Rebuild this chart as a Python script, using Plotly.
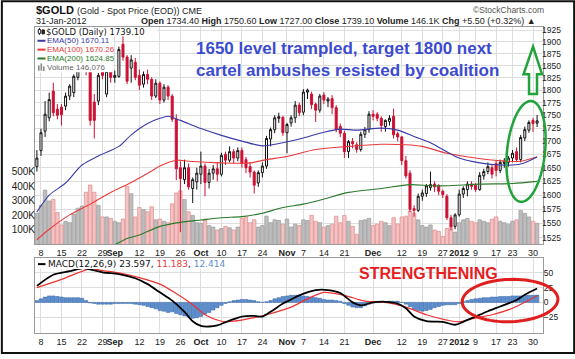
import math
import pandas as pd
import plotly.graph_objects as go

# ---------------- data ----------------
HOLIDAYS = ["2011-09-05", "2011-11-24", "2011-12-26", "2012-01-02", "2012-01-16"]
DATES = [d.strftime("%Y-%m-%d") for d in pd.bdate_range("2011-08-05", "2012-01-31")
         if d.strftime("%Y-%m-%d") not in HOLIDAYS]

OPEN = [1652, 1682, 1719, 1745, 1798, 1762,
        1766, 1768, 1788, 1795, 1826,
        1852, 1891, 1842, 1776, 1778,
        1850, 1792, 1838, 1826, 1828,
        1895, 1868, 1845, 1857,
        1830, 1812, 1832, 1822, 1788,
        1814, 1780, 1806, 1788, 1742,
        1650, 1628, 1650, 1612, 1624,
        1638, 1653, 1623, 1640, 1648,
        1638, 1675, 1664, 1680, 1668,
        1682, 1665, 1652, 1642, 1622,
        1641, 1653, 1704, 1722, 1744,
        1746, 1716, 1735, 1745, 1770,
        1756, 1796, 1792, 1772, 1760,
        1790, 1778, 1783, 1765, 1728,
        1715, 1680, 1699, 1693,
        1684, 1713, 1722, 1752, 1752,
        1744, 1728, 1738, 1748, 1714,
        1708, 1663, 1640, 1576, 1573,
        1598, 1603, 1614, 1620, 1617,
        1607, 1598, 1560, 1545,
        1565, 1602, 1610, 1620,
        1618, 1610, 1635, 1643, 1650,
        1658, 1645, 1658, 1660,
        1668, 1680, 1665, 1706, 1721,
        1740, 1734.4]
HIGH = [1683, 1724, 1778, 1795, 1815, 1772,
        1772, 1795, 1812, 1832, 1877,
        1911, 1913, 1846, 1792, 1835,
        1856, 1842, 1845, 1840, 1890,
        1920, 1872, 1872, 1866,
        1842, 1838, 1842, 1826, 1822,
        1818, 1812, 1810, 1792, 1752,
        1662, 1665, 1658, 1632, 1650,
        1680, 1658, 1648, 1655, 1660,
        1678, 1680, 1690, 1685, 1688,
        1688, 1670, 1660, 1645, 1645,
        1660, 1710, 1726, 1750, 1755,
        1748, 1735, 1750, 1778, 1775,
        1802, 1803, 1797, 1775, 1792,
        1796, 1786, 1790, 1770, 1734,
        1720, 1702, 1706, 1698,
        1718, 1727, 1758, 1760, 1756,
        1748, 1742, 1750, 1763, 1718,
        1710, 1672, 1645, 1582, 1603,
        1610, 1620, 1643, 1625, 1620,
        1610, 1602, 1565, 1568,
        1610, 1616, 1625, 1625,
        1622, 1642, 1648, 1660, 1655,
        1664, 1665, 1668, 1672,
        1683, 1688, 1712, 1728, 1740,
        1745, 1750.6]
LOW = [1643, 1672, 1708, 1738, 1748, 1742,
       1730, 1760, 1780, 1786, 1820,
       1848, 1830, 1730, 1705, 1770,
       1822, 1786, 1815, 1815, 1825,
       1860, 1812, 1815, 1820,
       1800, 1805, 1812, 1780, 1784,
       1772, 1775, 1780, 1737, 1627,
       1535, 1620, 1610, 1586, 1610,
       1620, 1598, 1612, 1628, 1625,
       1634, 1655, 1660, 1658, 1662,
       1650, 1640, 1632, 1603, 1615,
       1632, 1648, 1690, 1715, 1735,
       1710, 1677, 1728, 1735, 1748,
       1750, 1782, 1762, 1737, 1755,
       1772, 1766, 1752, 1717, 1708,
       1668, 1668, 1686, 1678,
       1680, 1706, 1716, 1740, 1738,
       1718, 1718, 1730, 1705, 1700,
       1655, 1630, 1570, 1562, 1570,
       1590, 1597, 1608, 1606, 1600,
       1595, 1556, 1538, 1540,
       1562, 1595, 1598, 1610,
       1606, 1608, 1628, 1638, 1630,
       1634, 1640, 1650, 1652,
       1660, 1660, 1660, 1700, 1716,
       1718, 1727.0]
CLOSE = [1668, 1716, 1752, 1781, 1755, 1750,
         1751, 1788, 1808, 1828, 1852,
         1891, 1845, 1740, 1740, 1830,
         1830, 1838, 1826, 1830, 1884,
         1868, 1818, 1862, 1826,
         1810, 1832, 1822, 1788, 1814,
         1780, 1806, 1788, 1742, 1648,
         1630, 1650, 1615, 1628, 1640,
         1653, 1623, 1640, 1648, 1638,
         1673, 1664, 1680, 1668, 1682,
         1658, 1650, 1642, 1618, 1641,
         1653, 1705, 1722, 1745, 1747,
         1716, 1732, 1745, 1770, 1755,
         1796, 1800, 1771, 1760, 1788,
         1780, 1782, 1765, 1722, 1715,
         1680, 1699, 1695, 1684,
         1713, 1722, 1752, 1748, 1744,
         1730, 1740, 1744, 1712, 1708,
         1663, 1635, 1575, 1573, 1598,
         1604, 1617, 1619, 1615, 1607,
         1601, 1560, 1545, 1565,
         1602, 1612, 1620, 1616,
         1610, 1636, 1643, 1652, 1638,
         1645, 1660, 1662, 1668,
         1677, 1665, 1707, 1722, 1736,
         1733.6, 1739.1]
VOLUME_K = [215, 270, 375, 300, 310, 220,
            135, 160, 150, 210, 250,
            265, 360, 410, 360, 270,
            190, 190, 180, 160, 150,
            175, 400, 350, 190,
            255, 240, 225, 260, 170,
            175, 160, 150, 280, 355,
            370, 310, 225, 200, 150,
            145, 175, 130, 120, 100,
            110, 125, 115, 100, 120,
            180, 190, 150, 170, 120,
            130, 195, 150, 170, 165,
            140, 175, 120, 140, 130,
            170, 165, 200, 160, 150,
            120, 130, 140, 195, 150,
            200, 160, 125, 70,
            165, 170, 180, 130, 140,
            160, 150, 130, 185, 140,
            190, 195, 230, 215, 170,
            130, 120, 135, 100, 90,
            55, 110, 130, 85,
            150, 170, 180, 160,
            150, 170, 160, 150, 175,
            190, 160, 150, 140,
            160, 170, 235, 215, 190,
            160, 146.076]

EMA50_DATES = ["2011-08-05", "2011-08-10", "2011-08-16", "2011-08-22", "2011-08-26", "2011-09-02",
               "2011-09-08", "2011-09-14", "2011-09-19", "2011-09-21", "2011-09-26", "2011-10-03",
               "2011-10-10", "2011-10-17", "2011-10-24", "2011-10-31", "2011-11-07", "2011-11-14",
               "2011-11-18", "2011-11-25", "2011-12-05", "2011-12-09", "2011-12-15", "2011-12-21",
               "2011-12-27", "2012-01-03", "2012-01-10", "2012-01-18", "2012-01-25", "2012-01-31"]
EMA50 = [1570, 1600, 1622, 1655, 1672, 1690, 1712, 1734, 1744, 1748, 1740, 1724, 1711, 1700, 1691,
         1697, 1706, 1717, 1723, 1721, 1725, 1721, 1709, 1697, 1684, 1668, 1659, 1655, 1657, 1670.11]

EMA100_DATES = ["2011-08-05", "2011-08-10", "2011-08-17", "2011-08-24", "2011-08-31", "2011-09-08",
                "2011-09-15", "2011-09-19", "2011-09-23", "2011-09-28", "2011-10-10", "2011-10-19",
                "2011-10-25", "2011-11-01", "2011-11-10", "2011-11-22", "2011-12-05", "2011-12-13",
                "2011-12-19", "2011-12-28", "2012-01-09", "2012-01-18", "2012-01-25", "2012-01-31"]
EMA100 = [1522, 1540, 1565, 1584, 1605, 1623, 1644, 1653, 1664, 1662, 1659, 1659, 1665, 1671, 1684,
          1690, 1694, 1693, 1690, 1677, 1668, 1663, 1662, 1670.26]

EMA200_DATES = ["2011-08-26", "2011-09-01", "2011-09-07", "2011-09-12", "2011-09-19", "2011-09-26",
                "2011-10-03", "2011-10-10", "2011-10-17", "2011-10-24", "2011-10-31", "2011-11-07",
                "2011-11-14", "2011-11-22", "2011-12-05", "2011-12-14", "2011-12-21", "2011-12-28",
                "2012-01-10", "2012-01-23", "2012-01-31"]
EMA200 = [1506, 1514, 1524, 1530, 1545, 1552, 1556, 1560, 1562, 1568, 1578, 1584, 1593, 1605, 1612,
          1619, 1617, 1617, 1620, 1621, 1624.85]

MACD_DATES = ["2011-08-05", "2011-08-11", "2011-08-17", "2011-08-22", "2011-08-24", "2011-08-29",
              "2011-09-02", "2011-09-09", "2011-09-14", "2011-09-19", "2011-09-22", "2011-09-27",
              "2011-09-29", "2011-10-03", "2011-10-05", "2011-10-07", "2011-10-12", "2011-10-17",
              "2011-10-20", "2011-10-24", "2011-10-26", "2011-10-31", "2011-11-02", "2011-11-04",
              "2011-11-10", "2011-11-15", "2011-11-18", "2011-11-23", "2011-11-28", "2011-12-01",
              "2011-12-06", "2011-12-09", "2011-12-13", "2011-12-15", "2011-12-20", "2011-12-27",
              "2011-12-30", "2012-01-04", "2012-01-09", "2012-01-12", "2012-01-18", "2012-01-24",
              "2012-01-26", "2012-01-31"]
MACD = [28, 47, 53, 58, 56, 51, 48, 41, 31, 17, 3, -16, -32, -40, -41, -39, -31, -24, -23, -24,
        -16, -2, 5, 12, 21, 21, 16, 0, -5, 0, 1, -2, -10, -24, -32, -33, -38, -33, -24, -15,
        -7, 4, 13, 23.597]

SIGNAL_DATES = ["2011-08-05", "2011-08-15", "2011-08-24", "2011-08-29", "2011-09-02", "2011-09-12",
                "2011-09-19", "2011-09-23", "2011-09-29", "2011-10-04", "2011-10-10", "2011-10-13",
                "2011-10-20", "2011-10-25", "2011-11-02", "2011-11-08", "2011-11-14", "2011-11-21",
                "2011-11-29", "2011-12-06", "2011-12-13", "2011-12-20", "2011-12-28", "2012-01-03",
                "2012-01-06", "2012-01-13", "2012-01-23", "2012-01-31"]
SIGNAL = [25, 39, 57, 54, 50, 42, 31, 15, -4, -21, -32, -32, -26, -21, -8, 6, 17, 12, 2, 0,
          -8, -21, -30, -33, -28, -21, -10, 11.183]

HIST = [3, 6, 9, 11, 11, 10, 9, 8, 8, 8, 8, 7, 3,
        -1, -2, -3, -3, -3, -3, -2, -2, -2, -2, -2, -3,
        -4, -5, -7, -9, -11, -14, -15, -17, -16, -19, -21,
        -23, -25, -27, -26, -24, -20, -17, -13, -9, -5, -2,
        1, 3, 4, 5, 5, 4, 3, 1, 0,
        1, 3, 6, 8, 10, 11, 12, 12, 12,
        11, 10, 9, 8, 7, 5, 4, 4, 3, 2,
        -2, -5, -8, -9, -9, -6, -3, -1,
        0, 1, 1, 2, 2, 2, 0,
        -3, -7, -12, -14, -15, -14, -12, -9, -7, -5, -4, -4, -4,
        -2, 1, 3, 5, 6, 7, 8, 8, 9, 9, 10, 10, 10, 11, 11, 11, 12, 12, 12, 12.414]

TICK_DATES = ["2011-08-08", "2011-08-15", "2011-08-22", "2011-08-29", "2011-09-01", "2011-09-12",
              "2011-09-19", "2011-09-26", "2011-10-03", "2011-10-10", "2011-10-17", "2011-10-24",
              "2011-11-01", "2011-11-07", "2011-11-14", "2011-11-21", "2011-12-01", "2011-12-12",
              "2011-12-19", "2011-12-27", "2012-01-03", "2012-01-09", "2012-01-17", "2012-01-23",
              "2012-01-30"]
TICK_TEXT = ["8", "15", "22", "29", "<b>Sep</b>", "12", "19", "26", "<b>Oct</b>", "10", "17", "24",
             "<b>Nov</b>", "7", "14", "21", "<b>Dec</b>", "12", "19", "27", "<b>2012</b>", "9", "17",
             "23", "30"]
PRICE_TICKS = list(range(1525, 1926, 25))
VOL_TICKS = [100, 200, 300, 400, 500]
VOL_TEXT = ["100K", "200K", "300K", "400K", "500K"]
MACD_TICKS = [-25, 0, 25, 50]
LEVEL = 1650
LEVEL_START = "2011-08-26"

n = len(DATES)
assert all(len(a) == n for a in (OPEN, HIGH, LOW, CLOSE, VOLUME_K, HIST))
for arr in (EMA50_DATES, EMA100_DATES, EMA200_DATES, MACD_DATES, SIGNAL_DATES, TICK_DATES):
    for d in arr:
        assert d in DATES, d

# ---------------- geometry helpers ----------------
W, H = 575, 359
L, R, T, B = 34, 32, 27, 21
PW, PH = W - L - R, H - T - B


def px(X):
    return (X - L) / PW


def py(Y):
    return (H - B - Y) / PH


P_BOT = py(248)
M_TOP = py(262)
XR = [-0.46, 123.44]
FONT = "Liberation Sans, Arial, sans-serif"
GRID = "#dedede"
FRAME = "#9a9a9a"
RED = "#cc1133"

fig = go.Figure()

vol_fill = ["#f4c2c2" if c < o else "#bdbdbd" for o, c in zip(OPEN, CLOSE)]
vol_line = ["#df8c8c" if c < o else "#9c9c9c" for o, c in zip(OPEN, CLOSE)]
fig.add_trace(go.Bar(x=DATES, y=VOLUME_K, xaxis="x", yaxis="y",
                     marker=dict(color=vol_fill, line=dict(color=vol_line, width=0.7)),
                     hoverinfo="skip"))

fig.add_trace(go.Scatter(x=EMA200_DATES, y=EMA200, xaxis="x", yaxis="y3", mode="lines",
                         line=dict(color="#2b7a2b", width=1.1, shape="spline", smoothing=0.8)))
fig.add_trace(go.Scatter(x=EMA100_DATES, y=EMA100, xaxis="x", yaxis="y3", mode="lines",
                         line=dict(color="#e83a3a", width=1.1, shape="spline", smoothing=0.8)))
fig.add_trace(go.Scatter(x=EMA50_DATES, y=EMA50, xaxis="x", yaxis="y3", mode="lines",
                         line=dict(color="#3a3aa8", width=1.1, shape="spline", smoothing=0.8)))

fig.add_trace(go.Candlestick(x=DATES, open=OPEN, high=HIGH, low=LOW, close=CLOSE,
                             xaxis="x", yaxis="y3", whiskerwidth=0,
                             increasing=dict(line=dict(color="#111111", width=1), fillcolor="white"),
                             decreasing=dict(line=dict(color=RED, width=1), fillcolor=RED)))

fig.add_trace(go.Bar(x=DATES, y=HIST, xaxis="x2", yaxis="y2",
                     marker=dict(color="#5b8fd0", line=dict(color="#2f5f9f", width=0.5)),
                     hoverinfo="skip"))
fig.add_trace(go.Scatter(x=SIGNAL_DATES, y=SIGNAL, xaxis="x2", yaxis="y2", mode="lines",
                         line=dict(color="#ee3333", width=1.2, shape="spline", smoothing=0.8)))
fig.add_trace(go.Scatter(x=MACD_DATES, y=MACD, xaxis="x2", yaxis="y2", mode="lines",
                         line=dict(color="#000000", width=1.8, shape="spline", smoothing=0.8)))

xcommon = dict(type="category", categoryorder="array", categoryarray=DATES, range=XR,
               tickmode="array", tickvals=TICK_DATES, ticktext=TICK_TEXT, tickangle=0,
               showgrid=True, gridcolor=GRID, gridwidth=1, showline=True, mirror=True,
               linecolor=FRAME, linewidth=1, ticks="", zeroline=False,
               tickfont=dict(family=FONT, size=9, color="#222"), fixedrange=True)

fig.update_layout(
    width=W, height=H, margin=dict(l=L, r=R, t=T, b=B, pad=0),
    paper_bgcolor="white", plot_bgcolor="white", showlegend=False,
    bargap=0.15, boxgap=0.3,
    font=dict(family=FONT, size=9, color="#222"),
    xaxis=dict(**xcommon, anchor="y", domain=[0, 1], rangeslider=dict(visible=False)),
    xaxis2=dict(**xcommon, anchor="y2", domain=[0, 1]),
    yaxis=dict(domain=[P_BOT, 1], range=[0, 1500], side="left", tickmode="array",
               tickvals=VOL_TICKS, ticktext=VOL_TEXT, showgrid=False, showline=True, mirror=True,
               linecolor=FRAME, zeroline=False, ticks="", ticklabelstandoff=-3,
               tickfont=dict(family=FONT, size=10, color="#222"), fixedrange=True),
    yaxis3=dict(overlaying="y", anchor="x", side="right", type="log",
                range=[math.log10(1514), math.log10(1932)], tickmode="array",
                tickvals=PRICE_TICKS, ticktext=[str(v) for v in PRICE_TICKS],
                showgrid=True, gridcolor=GRID, zeroline=False, ticks="", ticklabelstandoff=-2,
                tickfont=dict(family=FONT, size=8.5, color="#222"), fixedrange=True),
    yaxis2=dict(domain=[0, M_TOP], anchor="x2", side="right", range=[-52, 75], tickmode="array",
                tickvals=MACD_TICKS, showgrid=True, gridcolor=GRID, zeroline=False,
                showline=True, mirror=True, linecolor=FRAME, ticks="", ticklabelstandoff=-2,
                tickfont=dict(family=FONT, size=8.5, color="#222"), fixedrange=True),
)

shapes = []
# 1650 level line
shapes.append(dict(type="line", xref="x", yref="y3", x0=DATES.index(LEVEL_START), x1=XR[1],
                   y0=math.log10(LEVEL), y1=math.log10(LEVEL), line=dict(color="black", width=3),
                   layer="above"))
# legend backgrounds
shapes.append(dict(type="rect", xref="paper", yref="paper", x0=px(34.5), x1=px(156), y0=py(36.5),
                   y1=py(27.5), fillcolor="white", line=dict(width=0), layer="above"))
shapes.append(dict(type="rect", xref="paper", yref="paper", x0=px(34.5), x1=px(112), y0=py(73),
                   y1=py(36.5), fillcolor="white", line=dict(width=0), layer="above"))
shapes.append(dict(type="rect", xref="paper", yref="paper", x0=px(34.5), x1=px(232), y0=py(273),
                   y1=py(262.5), fillcolor="white", line=dict(width=0), layer="above"))
# legend dashes
for Y, col in ((41, "#3a3aa8"), (50, "#e83a3a"), (59, "#2b7a2b")):
    shapes.append(dict(type="line", xref="paper", yref="paper", x0=px(36.5), x1=px(44.5),
                       y0=py(Y), y1=py(Y), line=dict(color=col, width=2), layer="above"))
shapes.append(dict(type="line", xref="paper", yref="paper", x0=px(37), x1=px(44.5),
                   y0=py(268), y1=py(268), line=dict(color="black", width=2), layer="above"))
# candle icon
shapes.append(dict(type="line", xref="paper", yref="paper", x0=px(38.5), x1=px(38.5), y0=py(35),
                   y1=py(28), line=dict(color="#222", width=1), layer="above"))
shapes.append(dict(type="rect", xref="paper", yref="paper", x0=px(37.3), x1=px(39.7), y0=py(33.5),
                   y1=py(29.5), fillcolor="white", line=dict(color="#222", width=1), layer="above"))
shapes.append(dict(type="rect", xref="paper", yref="paper", x0=px(41), x1=px(43.4), y0=py(34),
                   y1=py(30), fillcolor="#222", line=dict(color="#222", width=1), layer="above"))
# volume icon
for x0, top in ((37, 66), (39.5, 64), (42, 67)):
    shapes.append(dict(type="rect", xref="paper", yref="paper", x0=px(x0), x1=px(x0 + 1.6),
                       y0=py(71.5), y1=py(top), fillcolor="#888", line=dict(width=0), layer="above"))


def ellipse(cx, cy, rx, ry, ang_deg, n=72):
    a = math.radians(ang_deg)
    pts = []
    for k in range(n):
        t = 2 * math.pi * k / n
        X = cx + rx * math.cos(t) * math.cos(a) - ry * math.sin(t) * math.sin(a)
        Y = cy + rx * math.cos(t) * math.sin(a) + ry * math.sin(t) * math.cos(a)
        pts.append((px(X), py(Y)))
    return "M " + " L ".join(f"{x:.5f},{y:.5f}" for x, y in pts) + " Z"


def poly(points):
    return "M " + " L ".join(f"{px(X):.5f},{py(Y):.5f}" for X, Y in points) + " Z"


shapes.append(dict(type="path", xref="paper", yref="paper", path=ellipse(526, 153.5, 19, 51.5, 6),
                   line=dict(color="#22a33a", width=2.5), layer="above"))
shapes.append(dict(type="path", xref="paper", yref="paper",
                   path=poly([(533, 47), (542, 75), (537, 75), (537, 95), (529, 95), (529, 75), (523.5, 75)]),
                   line=dict(color="#22a33a", width=2.5), layer="above"))
shapes.append(dict(type="path", xref="paper", yref="paper", path=ellipse(510, 305, 48, 21.5, -2),
                   line=dict(color="#e01e1e", width=3), layer="above"))
# outer frame
shapes.append(dict(type="rect", xref="paper", yref="paper", x0=px(0.8), x1=px(W - 0.8),
                   y0=py(H - 0.8), y1=py(0.8), line=dict(color="#111", width=2), layer="above"))
fig.update_layout(shapes=shapes)

ann = []


def text(X, Y, s, size=9, color="#222", anchor="left", family=FONT, yanchor="middle"):
    ann.append(dict(x=px(X), y=py(Y), xref="paper", yref="paper", text=s, showarrow=False,
                    xanchor=anchor, yanchor=yanchor, font=dict(family=family, size=size, color=color),
                    borderpad=0))


text(34, 10, "<b>$GOLD</b>", size=11, color="#111")
text(75, 10.5, "(Gold - Spot Price (EOD)) CME", size=9)
text(34, 21, "31-Jan-2012", size=9)
text(537, 21, "<b>Open</b> 1734.40 <b>High</b> 1750.60 <b>Low</b> 1727.00 <b>Close</b> 1739.10 "
     "<b>Volume</b> 146.1K <b>Chg</b> +5.50 (+0.32%) \u25b2", size=9, anchor="right")
text(545, 10, "\u00a9StockCharts.com", size=8.5, color="#555", anchor="right")

text(44.5, 31.8, "$GOLD (Daily) 1739.10", size=8.5, color="#111", family="DejaVu Sans, sans-serif")
text(45.5, 41, "EMA(50) 1670.11", size=8, color="#3a3aa8")
text(45.5, 50, "EMA(100) 1670.26", size=8, color="#e83a3a")
text(45.5, 59, "EMA(200) 1624.85", size=8, color="#2b7a2b")
text(45.5, 68, "Volume 146,076", size=8, color="#666")
text(46, 268, "MACD(12,26,9) 23.597, <span style='color:#e83a3a'>11.183</span>, "
     "<span style='color:#5b8fd0'>12.414</span>", size=9, color="#111", family="DejaVu Sans, sans-serif")

text(194, 49, "<b>1650 level trampled, target 1800 next</b>", size=17, color="#3b4bcf")
text(194, 71, "<b>cartel ambushes resisted by coalition</b>", size=17, color="#3b4bcf")
text(428, 277.5, "<b>STRENGTHENING</b>", size=16, color="#e61e24", anchor="center")

fig.update_layout(annotations=ann)
fig.write_html("out.html", config={"displayModeBar": False},
               post_script="document.body.style.margin='0';document.body.style.padding='0';")
